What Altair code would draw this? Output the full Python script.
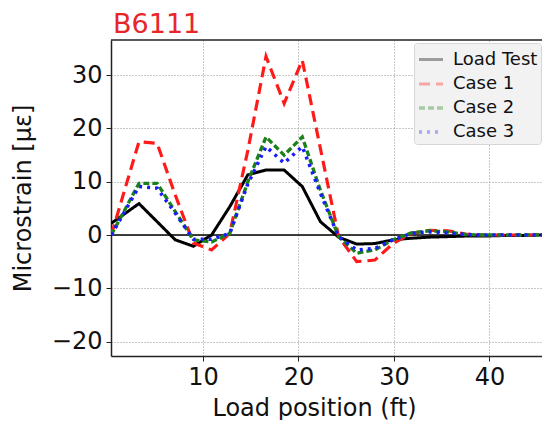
import altair as alt
import pandas as pd

# Load position (ft)
positions = [0.4, 3.3, 5.2, 7.1, 9.0, 10.9, 12.8, 14.7, 16.6, 18.5, 20.4, 22.3, 24.2,
             26.1, 28.0, 29.9, 31.8, 33.7, 35.6, 37.5, 39.4, 41.3, 43.2, 45.1, 47.0]
series_names = ["Load Test", "Case 1", "Case 2", "Case 3"]
load_test = [2.2, 5.9, 2.5, -0.9, -2.1, 0.0, 5.3, 11.3, 12.2, 12.2, 9.1, 2.5, -0.4,
             -1.7, -1.6, -0.9, -0.6, -0.4, -0.3, -0.2, -0.2, -0.1, -0.1, 0.0, 0.0]
case1 = [0.0, 17.5, 17.2, 7.5, -1.5, -2.8, 0.3, 15.9, 33.5, 24.7, 32.8, 16.2, -0.3,
         -5.0, -4.7, -1.6, 0.3, 0.9, 0.8, 0.2, 0.0, 0.0, 0.0, 0.0, 0.1]
case2 = [0.0, 9.7, 9.7, 4.4, -0.9, -1.3, 0.3, 10.0, 18.4, 15.0, 18.4, 8.4, -0.3,
         -3.4, -2.8, -0.9, 0.4, 0.8, 0.6, 0.1, 0.0, 0.0, 0.0, 0.0, 0.0]
case3 = [0.0, 9.1, 8.8, 4.1, -0.8, -0.8, 0.3, 9.6, 16.6, 13.5, 16.6, 7.8, -0.3,
         -2.8, -2.5, -0.9, 0.3, 0.6, 0.4, 0.1, 0.0, 0.0, 0.0, 0.0, 0.0]

rows = []
for name, vals in zip(series_names, [load_test, case1, case2, case3]):
    for i, (x, y) in enumerate(zip(positions, vals)):
        rows.append({"pos": x, "strain": y, "series": name, "idx": i})
df = pd.DataFrame(rows)

FONT = "DejaVu Sans"
W, H = 431, 316

xscale = alt.Scale(domain=[0.37, 45.5], nice=False, zero=False)
yscale = alt.Scale(domain=[-22.7, 36.6], nice=False, zero=False)

lines = alt.Chart(df).mark_line(clip=True).encode(
    x=alt.X("pos:Q", scale=xscale,
            axis=alt.Axis(values=[10, 20, 30, 40], title="Load position (ft)",
                          titleX=203, titleY=52, titleBaseline="middle")),
    y=alt.Y("strain:Q", scale=yscale,
            axis=alt.Axis(values=[-20, -10, 0, 10, 20, 30], title="Microstrain [με]",
                          titleX=-88, titleY=158, titleBaseline="middle",
                          titleAlign="center")),
    color=alt.Color("series:N",
                    scale=alt.Scale(domain=series_names,
                                    range=["#000000", "#ff1a1a", "#1a801a", "#1a1aff"]),
                    legend=alt.Legend(title=None, orient="none", legendX=303, legendY=3,
                                      fillColor="#f2f2f2", strokeColor="#d6d6d6",
                                      padding=3, cornerRadius=3,
                                      labelFont=FONT, labelFontSize=18, labelColor="#111",
                                      symbolType="stroke", symbolSize=576,
                                      symbolStrokeWidth=1.5, symbolOpacity=0.35,
                                      rowPadding=1, labelOffset=8)),
    strokeDash=alt.StrokeDash("series:N",
                              scale=alt.Scale(domain=series_names,
                                              range=[[1, 0], [11, 6], [6, 3], [3, 5]]),
                              legend=None),
    strokeWidth=alt.StrokeWidth("series:N",
                                scale=alt.Scale(domain=series_names, range=[3, 3.5, 3, 3.5]),
                                legend=None),
    order="idx:Q",
)

zero_line = alt.Chart().mark_rule(color="#000000", strokeWidth=1.5).encode(
    y=alt.datum(0, scale=yscale)
)
top_frame = alt.Chart().mark_rule(color="#222222", strokeWidth=1.5).encode(
    y=alt.value(0)
)

chart = alt.layer(zero_line, lines, top_frame).properties(
    width=W, height=H,
    title=alt.Title("B6111", anchor="start", frame="group", fontSize=27,
                    color="#e8262a", font=FONT, fontWeight="normal", offset=0, dx=2),
    autosize=alt.AutoSizeParams(type="none"),
    padding={"left": 103, "top": 32, "right": 0, "bottom": 64},
).configure_view(stroke=None).configure_axis(
    labelFont=FONT, labelFontSize=24, labelColor="#111",
    titleFont=FONT, titleFontSize=24, titleFontWeight="normal", titleColor="#111",
    domain=True, domainColor="#222222", domainWidth=1.5,
    tickColor="#222222", tickSize=5, labelPadding=4,
    grid=True, gridColor="#777777", gridDash=[1, 2], gridWidth=1, gridOpacity=0.8,
)

chart.save("out.html", embed_options={"renderer": "svg", "actions": False})
